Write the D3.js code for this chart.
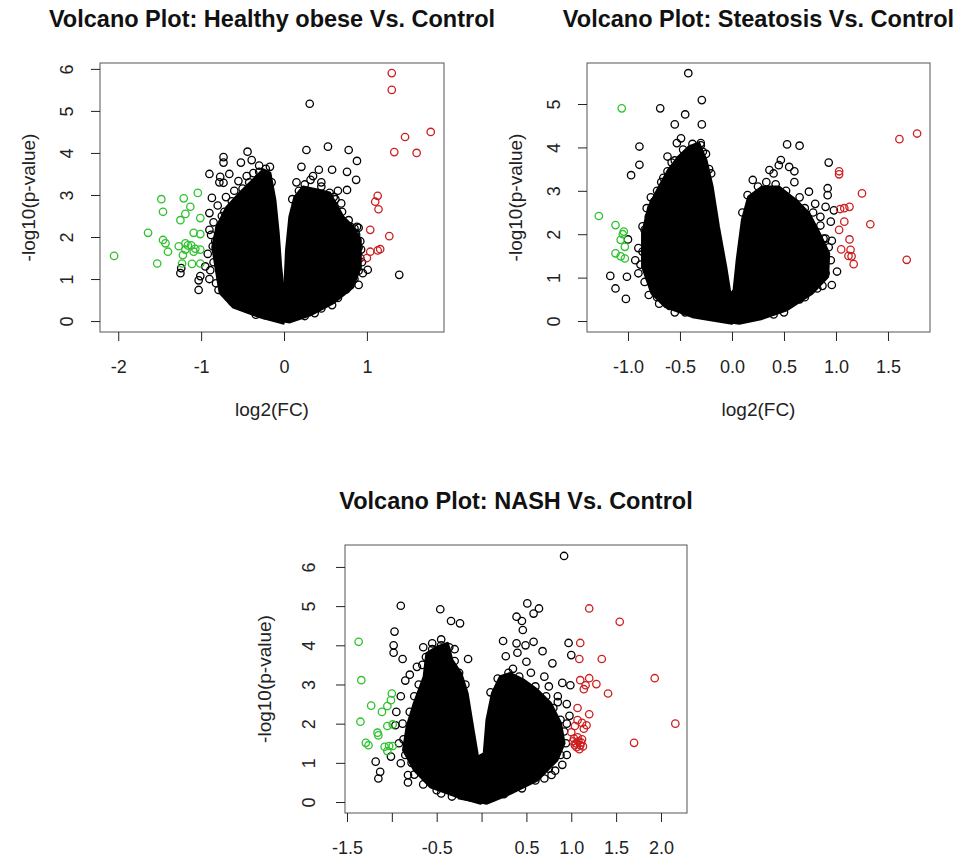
<!DOCTYPE html>
<html>
<head>
<meta charset="utf-8">
<script src="https://cdn.jsdelivr.net/npm/d3@7"></script>
<style>
  body { margin: 0; background: #fff; }
  svg { display: block; font-family: "Liberation Sans", Arial, Helvetica, sans-serif; }
</style>
</head>
<body>
<svg id="chart" width="954" height="863"></svg>
<script>
// ---- Healthy obese vs control ----
const hoTitle = 'Volcano Plot: Healthy obese Vs. Control';
const hoXTicks = [-2, -1, 0, 1];
const hoXLabels = ['-2', '-1', '0', '1'];
const hoYTicks = [0, 1, 2, 3, 4, 5, 6];
// outline of the dense mass of points (two lobes), [log2FC, -log10p]
const hoCloud = [
  [[-0.01,-0.05],[-0.29,0.1],[-0.61,0.33],[-0.77,0.67],[-0.81,1.14],[-0.86,1.76],[-0.81,2.24],[-0.69,2.71],
   [-0.53,3.05],[-0.37,3.36],[-0.25,3.6],[-0.17,3.52],[-0.11,2.88],[-0.07,2.1],[-0.04,1.29],[-0.01,0.74]],
  [[0.01,0.81],[0.03,1.69],[0.07,2.48],[0.13,2.95],[0.23,3.19],[0.4,3.12],[0.55,3.05],[0.71,2.48],[0.83,2.24],
   [0.92,1.93],[0.92,1.29],[0.83,0.81],[0.59,0.43],[0.31,0.14],[0.07,-0.02],[-0.25,0.08],[-0.03,0.72]]
];
const hoBlack = [
  [0.31,5.17],[0.53,4.15],[0.27,4.07],[0.78,4.07],[0.88,3.81],[0.87,3.36],[0.58,3.6],[0.42,3.6],[0.21,3.67],
  [0.76,3.55],[0.76,3.12],[0.69,2.8],[0.32,3.36],[0.45,3.3],[-0.44,4.03],[-0.73,3.9],[-0.73,3.77],[-0.52,3.77],
  [-0.39,3.83],[-0.9,3.5],[-0.77,3.43],[-0.66,3.5],[-0.73,3.29],[-0.55,3.33],[-0.37,3.52],[-0.17,3.67],
  [-0.87,2.93],[-0.9,2.57],[-1.25,1.14],[-1.24,1.26],[-1.03,0.74],[-1.03,0.97],[-1.01,1.07],[-0.79,0.74],
  [-0.67,0.57],[-0.53,0.42],[-0.34,0.15],[0.58,0.38],[0.37,0.19],[0.9,0.86],[0.95,1.14],[1.01,1.22],[0.92,1.5],
  [0.88,2.24],[0.76,2.2],[-0.89,1.21],[-0.86,1.78],[-0.9,2.17],[1.39,1.1],
  [0.7,2.25],[0.75,2.28],[0.8,2.25],[0.85,2.2],[0.9,2.22],[0.87,2.05],[0.92,1.9],[0.9,1.75],
  [0.55,3.05],[0.6,2.95],[0.65,3.1],[0.5,2.95],[-0.78,3.3],[-0.7,2.95],[-0.8,2.75],[-0.75,2.5],[-0.85,2.35],
  [-0.88,2.05],[-0.92,1.6],[-0.95,1.3],[-0.9,1.0],[-0.6,3.1],[-0.45,3.45],[-0.3,3.7],[0.15,3.3],[0.35,3.45],
  [-0.82,0.9],[-0.85,1.4],[-0.83,1.9],[-0.78,2.2],[-0.72,2.6],[-0.63,2.85],[-0.5,3.15],[-0.42,3.3],
  [-0.3,3.55],[-0.22,3.62],[-0.2,3.4],[-0.15,3.3],[-0.62,0.45],[-0.45,0.3],[-0.7,0.7],[-0.76,1.0],
  [0.1,2.9],[0.18,3.1],[0.25,3.25],[0.45,3.2],[0.62,2.9],[0.7,2.6],[0.78,2.4],[0.86,2.1],[0.93,1.7],
  [0.94,1.4],[0.9,1.2],[0.85,1.0],[0.75,0.75],[0.65,0.55],[0.45,0.3],[0.25,0.12]
];
const hoGreen = [
  [-2.05,1.55],[-1.64,2.1],[-1.48,2.9],[-1.46,2.6],[-1.46,1.93],[-1.43,1.85],[-1.4,1.65],[-1.53,1.37],
  [-1.21,2.92],[-1.13,2.72],[-1.04,3.05],[-1.25,2.4],[-1.19,2.55],[-1.01,2.45],[-1.09,2.1],[-1.01,2.07],
  [-1.19,1.85],[-1.16,1.8],[-1.12,1.8],[-1.07,1.72],[-1.01,1.7],[-1.19,1.7],[-1.09,1.65],[-1.11,1.36],
  [-1.01,1.37],[-1.23,1.37],[-1.22,1.57],[-1.27,1.78]
];
const hoRed = [
  [1.3,5.9],[1.3,5.5],[1.46,4.38],[1.77,4.5],[1.33,4.02],[1.6,4.0],[1.13,2.98],[1.1,2.84],[1.14,2.66],
  [1.04,2.17],[1.27,2.02],[1.16,1.71],[1.13,1.68],[1.04,1.65],[1.0,1.5]
];

// ---- Steatosis vs control ----
const stTitle = 'Volcano Plot: Steatosis Vs. Control';
const stXTicks = [-1, -0.5, 0, 0.5, 1, 1.5];
const stXLabels = ['-1.0', '-0.5', '0.0', '0.5', '1.0', '1.5'];
const stYTicks = [0, 1, 2, 3, 4, 5];
const stCloud = [
  [[0,-0.05],[-0.38,0.1],[-0.64,0.33],[-0.77,0.64],[-0.86,1.25],[-0.86,2.02],[-0.8,2.63],[-0.7,3.09],
   [-0.61,3.48],[-0.51,3.79],[-0.41,4.02],[-0.32,4.1],[-0.25,3.71],[-0.19,3.09],[-0.13,2.17],[-0.06,1.25],[-0.02,0.64]],
  [[0.02,0.71],[0.05,1.41],[0.1,2.33],[0.16,2.86],[0.29,3.09],[0.45,3.09],[0.61,2.79],[0.74,2.48],[0.84,2.02],
   [0.93,1.56],[0.92,1.02],[0.77,0.64],[0.52,0.25],[0.29,0.06],[0.07,-0.05],[-0.3,0.08],[-0.02,0.6]]
];
const stBlack = [
  [-0.42,5.71],[-0.29,5.09],[-0.69,4.9],[-0.45,4.76],[-0.55,4.53],[-0.29,4.53],[-0.89,4.02],[-0.89,3.6],
  [-0.97,3.36],[-0.49,4.21],[-0.53,4.1],[-0.62,3.79],[0.53,4.07],[0.65,4.04],[0.93,3.65],[0.92,3.06],
  [0.92,2.9],[0.9,2.63],[0.95,2.29],[0.96,1.85],[1.01,1.14],[0.96,0.83],[0.87,0.81],[-1.17,1.04],[-1.12,0.75],
  [-1.02,0.51],[-1.01,1.02],[-1.0,1.88],[-0.9,1.68],[-0.86,2.18],[0.36,3.48],[0.45,3.59],[0.55,3.55],
  [0.4,3.4],[0.6,3.45],[0.47,3.71],[0.6,3.2],[0.2,3.25],[0.74,2.98],[0.98,2.55],[-0.82,2.6],[-0.78,2.85],
  [-0.72,3.0],[-0.66,3.3],[-0.58,3.65],[-0.3,4.05],[-0.25,3.85],[-0.2,3.4],[-0.93,1.4],[-0.9,1.1],[-0.8,0.6],
  [-0.7,0.4],[-0.55,0.2],[0.8,2.7],[0.85,2.4],[0.88,1.9],[0.82,0.75],[0.7,0.55],[0.5,0.2],
  [-0.84,0.9],[-0.88,1.3],[-0.86,1.6],[-0.84,2.1],[-0.8,2.4],[-0.75,2.75],[-0.68,3.2],[-0.62,3.45],
  [-0.55,3.7],[-0.47,3.95],[-0.38,4.08],[-0.3,4.1],[-0.28,3.9],[-0.22,3.5],[-0.72,0.55],[-0.6,0.35],[-0.45,0.2],
  [0.1,2.5],[0.15,2.9],[0.25,3.1],[0.33,3.2],[0.42,3.15],[0.52,3.0],[0.65,2.85],[0.7,2.6],[0.78,2.5],
  [0.85,2.2],[0.9,1.9],[0.93,1.7],[0.95,1.4],[0.9,1.1],[0.8,0.9],[0.65,0.5],[0.4,0.15]
];
const stGreen = [
  [-1.06,4.9],[-1.28,2.42],[-1.12,2.21],[-1.04,2.06],[-1.07,1.87],[-1.03,1.71],[-1.12,1.56],[-1.07,1.49],
  [-1.03,1.44],[-1.05,2.0]
];
const stRed = [
  [1.61,4.19],[1.78,4.32],[1.03,3.45],[1.03,3.38],[1.25,2.94],[1.13,2.63],[1.04,2.58],[1.08,2.6],[1.33,2.23],
  [1.08,2.29],[1.03,2.1],[1.13,1.88],[1.05,1.65],[1.14,1.64],[1.12,1.5],[1.15,1.49],[1.17,1.31],[1.68,1.41]
];

// ---- NASH vs control ----
const nsTitle = 'Volcano Plot: NASH Vs. Control';
const nsXTicks = [-1.5, -1, -0.5, 0, 0.5, 1, 1.5, 2];
const nsXLabels = ['-1.5', '', '-0.5', '', '0.5', '1.0', '1.5', '2.0'];
const nsYTicks = [0, 1, 2, 3, 4, 5, 6];
const nsCloud = [
  [[-0.01,-0.03],[-0.27,0.14],[-0.57,0.39],[-0.75,0.82],[-0.87,1.33],[-0.83,1.92],[-0.75,2.52],[-0.64,3.2],
   [-0.61,3.79],[-0.49,3.96],[-0.38,4.05],[-0.33,3.62],[-0.23,3.28],[-0.16,2.77],[-0.1,1.92],[-0.05,1.24]],
  [[0.03,1.24],[0.06,2.09],[0.12,2.77],[0.21,3.2],[0.32,3.28],[0.47,3.11],[0.62,2.86],[0.77,2.52],[0.88,2.01],
   [0.92,1.5],[0.84,1.07],[0.62,0.56],[0.32,0.22],[0.06,-0.03],[-0.25,0.1],[-0.04,1.15]]
];
const nsBlack = [
  [0.92,6.28],[-0.9,5.01],[-0.46,4.92],[-0.34,4.62],[-0.24,4.56],[-0.97,4.35],[-0.98,4.0],[-0.98,3.81],
  [-0.88,3.65],[-0.15,3.65],[0.51,5.07],[0.64,4.94],[0.58,4.81],[0.39,4.73],[0.45,4.62],[0.46,4.39],
  [0.24,4.11],[0.39,4.05],[0.49,4.0],[0.58,4.09],[0.4,3.81],[0.27,3.72],[0.5,3.58],[0.68,3.85],[0.79,3.54],
  [0.97,4.06],[1.0,3.75],[0.99,2.98],[0.9,3.04],[-1.18,1.03],[-1.13,0.77],[-1.15,0.6],[-1.01,1.16],
  [-0.9,0.99],[-0.96,1.96],[-0.82,0.69],[-0.82,0.5],[-0.45,0.22],[-0.33,0.14],[0.78,0.69],[0.82,0.8],
  [-0.85,3.1],[-0.8,3.25],[-0.72,3.45],[-0.65,3.95],[-0.55,4.05],[-0.45,4.15],[-0.3,3.9],[-0.9,2.7],
  [-0.95,2.3],[-0.92,1.5],[-0.88,2.0],[0.35,3.4],[0.55,3.3],[0.7,3.2],[0.75,2.95],[0.85,2.7],[0.95,2.5],
  [0.98,2.2],[0.95,1.2],[0.9,0.95],[0.7,0.6],
  [-0.85,1.2],[-0.87,1.6],[-0.8,2.3],[-0.75,2.7],[-0.7,3.0],[-0.66,3.5],[-0.62,3.7],[-0.55,3.9],[-0.45,4.0],
  [-0.36,3.95],[-0.3,3.6],[-0.25,3.3],[-0.18,3.0],[-0.75,0.7],[-0.65,0.45],[-0.5,0.3],[-0.78,1.0],
  [0.1,2.8],[0.18,3.15],[0.3,3.3],[0.42,3.2],[0.6,2.95],[0.72,2.7],[0.8,2.4],[0.88,2.1],[0.92,1.8],
  [0.94,1.5],[0.88,1.2],[0.75,0.85],[0.6,0.55],[0.45,0.35],[0.25,0.2],[0.95,2.0],[0.85,2.55]
];
const nsGreen = [
  [-1.37,4.09],[-1.34,3.11],[-1.35,2.05],[-1.23,2.46],[-1.11,2.3],[-1.05,2.45],[-1.0,2.77],[-1.01,2.6],
  [-1.16,1.77],[-1.15,1.7],[-1.05,1.94],[-1.29,1.51],[-1.26,1.45],[-1.08,1.41],[-1.03,1.43],[-1.05,1.3],
  [-0.99,1.43],[-0.99,1.98]
];
const nsRed = [
  [1.2,4.94],[1.54,4.6],[1.34,3.65],[1.1,4.06],[1.09,3.65],[1.93,3.16],[1.1,3.11],[1.2,3.16],[1.16,2.98],
  [1.14,2.88],[1.28,3.01],[1.41,2.77],[1.07,2.4],[1.2,2.24],[1.07,2.09],[1.12,2.02],[1.17,1.96],[1.14,1.87],
  [1.04,1.94],[1.0,1.78],[2.16,2.0],[1.7,1.51],[1.05,1.5],[1.08,1.55],[1.1,1.45],[1.06,1.4],[1.12,1.6],
  [1.03,1.62],[1.09,1.35],[1.04,1.45],[1.11,1.52],[1.07,1.65],[1.13,1.42],[1.02,1.55]
];

const GREEN = '#2cc22c', RED = '#cc1f1f';

// plot boxes and axis ranges for each panel (pixels / data units)
const panels = [
  { title: hoTitle, box: [100, 63, 444, 332], xDom: [-2.22, 1.93], yDom: [-0.26, 6.14],
    xTicks: hoXTicks, xLabels: hoXLabels, yTicks: hoYTicks, xTitle: true, yLab: -27, yTit: -65,
    cloud: hoCloud, black: hoBlack, green: hoGreen, red: hoRed },
  { title: stTitle, box: [587, 63, 930, 332], xDom: [-1.394, 1.904], yDom: [-0.253, 5.945],
    xTicks: stXTicks, xLabels: stXLabels, yTicks: stYTicks, xTitle: true, yLab: -27, yTit: -65,
    cloud: stCloud, black: stBlack, green: stGreen, red: stRed },
  { title: nsTitle, box: [345, 545, 687, 813], xDom: [-1.522, 2.29], yDom: [-0.28, 6.56],
    xTicks: nsXTicks, xLabels: nsXLabels, yTicks: nsYTicks, xTitle: false, yLab: -30, yTit: -74,
    cloud: nsCloud, black: nsBlack, green: nsGreen, red: nsRed }
];

const svg = d3.select('#chart');
panels.forEach((p, i) => drawPanel(p, i));

function drawPanel(p, i) {
  const [l, t, r, b] = p.box;
  const x = d3.scaleLinear().domain(p.xDom).range([l, r]);
  const y = d3.scaleLinear().domain(p.yDom).range([b, t]);
  const g = svg.append('g');

  g.append('clipPath').attr('id', 'clip' + i)
    .append('rect').attr('x', l).attr('y', t).attr('width', r - l).attr('height', b - t);
  const plot = g.append('g').attr('clip-path', `url(#clip${i})`);

  const line = d3.line().x(d => x(d[0])).y(d => y(d[1])).curve(d3.curveLinearClosed);
  plot.selectAll('path.cloud').data(p.cloud).join('path').attr('class', 'cloud')
    .attr('d', line).attr('fill', '#000').attr('stroke', '#000')
    .attr('stroke-width', 3).attr('stroke-linejoin', 'round');

  const dots = (data, col) => plot.append('g').selectAll('circle').data(data).join('circle')
    .attr('cx', d => x(d[0])).attr('cy', d => y(d[1])).attr('r', 3.7)
    .attr('fill', 'none').attr('stroke', col).attr('stroke-width', 1.3);
  dots(p.black, '#000');
  dots(p.green, GREEN);
  dots(p.red, RED);

  g.append('rect').attr('x', l).attr('y', t).attr('width', r - l).attr('height', b - t)
    .attr('fill', 'none').attr('stroke', '#555').attr('stroke-width', 1);

  // x axis
  const ax = g.append('g').attr('transform', `translate(0,${b})`)
    .call(d3.axisBottom(x).tickValues(p.xTicks).tickSize(9)
      .tickFormat((d, k) => p.xLabels[k]));
  ax.select('.domain').remove();
  ax.selectAll('line').attr('stroke', '#222');
  ax.selectAll('text').attr('y', 41).attr('dy', 0)
    .attr('font-size', 18).attr('fill', '#222').attr('font-family', null);

  // y axis, labels rotated as in base R
  const ay = g.append('g').attr('transform', `translate(${l},0)`)
    .call(d3.axisLeft(y).tickValues(p.yTicks).tickSize(9).tickFormat(d3.format('d')));
  ay.select('.domain').remove();
  ay.selectAll('line').attr('stroke', '#222');
  ay.selectAll('text').attr('transform', 'rotate(-90)').attr('x', 0).attr('y', p.yLab).attr('dy', 0)
    .attr('text-anchor', 'middle').attr('font-size', 18).attr('fill', '#222').attr('font-family', null);

  const cx = (l + r) / 2, cy = (t + b) / 2;
  g.append('text').attr('x', cx).attr('y', t - 36).attr('text-anchor', 'middle')
    .attr('font-size', 23.5).attr('font-weight', 'bold').attr('fill', '#111').text(p.title);
  if (p.xTitle) {
    g.append('text').attr('x', cx).attr('y', b + 84).attr('text-anchor', 'middle')
      .attr('font-size', 19).attr('fill', '#222').text('log2(FC)');
  }
  g.append('text').attr('transform', `translate(${l + p.yTit},${cy}) rotate(-90)`)
    .attr('text-anchor', 'middle').attr('font-size', 19).attr('fill', '#222').text('-log10(p-value)');
}
</script>
</body>
</html>
